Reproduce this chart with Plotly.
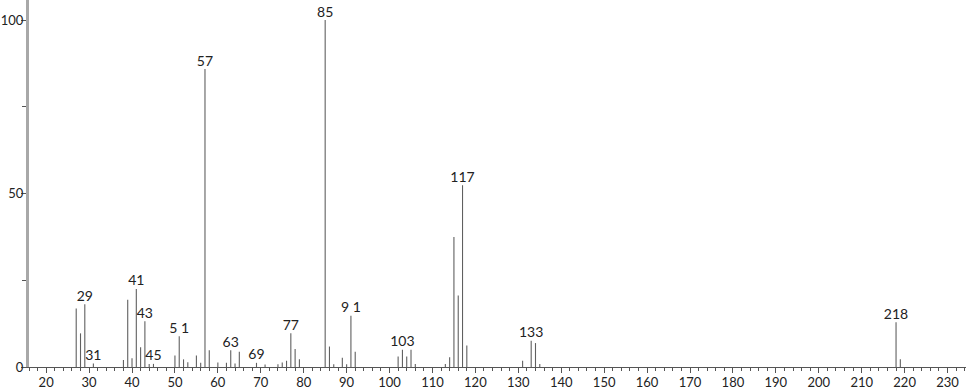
import plotly.graph_objects as go

# m/z values and relative intensities
mz = [27, 28, 29, 31, 38, 39, 40, 41, 42, 43, 44, 45,
      50, 51, 52, 53, 55, 56, 57, 58, 60, 62, 63, 64, 65,
      69, 71, 74, 75, 76, 77, 78, 79,
      85, 86, 87, 89, 90, 91, 92,
      102, 103, 104, 105, 106,
      113, 114, 115, 116, 117, 118,
      131, 133, 134, 135,
      218, 219]
intensity = [16.9, 9.7, 18.1, 1.0, 2.0, 19.4, 2.5, 22.5, 5.7, 13.2, 0.9, 0.9,
             3.3, 8.9, 2.2, 1.4, 3.3, 1.2, 85.9, 4.8, 1.3, 1.2, 4.8, 1.0, 4.4,
             1.2, 0.7, 0.8, 1.3, 1.8, 9.7, 5.2, 2.2,
             100.0, 5.9, 0.8, 2.7, 0.8, 14.8, 4.4,
             3.0, 5.0, 3.0, 5.0, 0.9,
             0.9, 2.8, 37.5, 20.6, 52.4, 6.2,
             1.8, 7.6, 6.9, 0.9,
             12.9, 2.2]
labelled = [29, 31, 41, 43, 45, 51, 57, 63, 69, 77, 85, 91, 103, 117, 133, 218]
label_text = ["29", "31", "41", "43", "45", "5 1", "57", "63", "69", "77", "85",
              "9 1", "103", "117", "133", "218"]

x_tick_vals = list(range(20, 231, 10))
y_tick_vals = [0, 50, 100]

# stick segments
xs, ys = [], []
for m, v in zip(mz, intensity):
    xs += [m, m, None]
    ys += [0, v, None]

lookup = dict(zip(mz, intensity))
lab_y = [lookup[m] for m in labelled]

fig = go.Figure()
fig.add_trace(go.Scatter(x=xs, y=ys, mode="lines",
                         line=dict(color="#606060", width=1.1),
                         hoverinfo="skip", showlegend=False))
fig.add_trace(go.Scatter(x=labelled, y=lab_y, mode="text", text=label_text,
                         textposition="top center",
                         textfont=dict(family="Lato", size=14, color="#222"),
                         showlegend=False))

fig.update_layout(
    width=966, height=389,
    margin=dict(l=29, r=0, t=0, b=22),
    paper_bgcolor="white", plot_bgcolor="white",
    font=dict(family="Lato", size=13, color="#222"),
    xaxis=dict(range=[16, 234.3], tickvals=x_tick_vals, ticks="outside",
               ticklen=5, tickcolor="#555", tickwidth=1, automargin=False,
               ticklabelstandoff=-2,
               minor=dict(dtick=2, tick0=0, ticklen=3, tickcolor="#555", ticks="outside"),
               showline=True, linecolor="#555", linewidth=1,
               showgrid=False, zeroline=False,
               tickfont=dict(family="Lato", size=13, color="#222")),
    yaxis=dict(range=[0, 105.8], tickvals=y_tick_vals, ticks="outside",
               ticklen=5, tickcolor="#555", tickwidth=1, automargin=False,
               ticklabelstandoff=-5,
               minor=dict(tickvals=[25, 75], ticklen=4, tickcolor="#555", ticks="outside"),
               showline=True, linecolor="#a8a8a8", linewidth=3,
               showgrid=False, zeroline=False,
               tickfont=dict(family="Lato", size=13, color="#222")),
)

fig.write_html("out.html")
